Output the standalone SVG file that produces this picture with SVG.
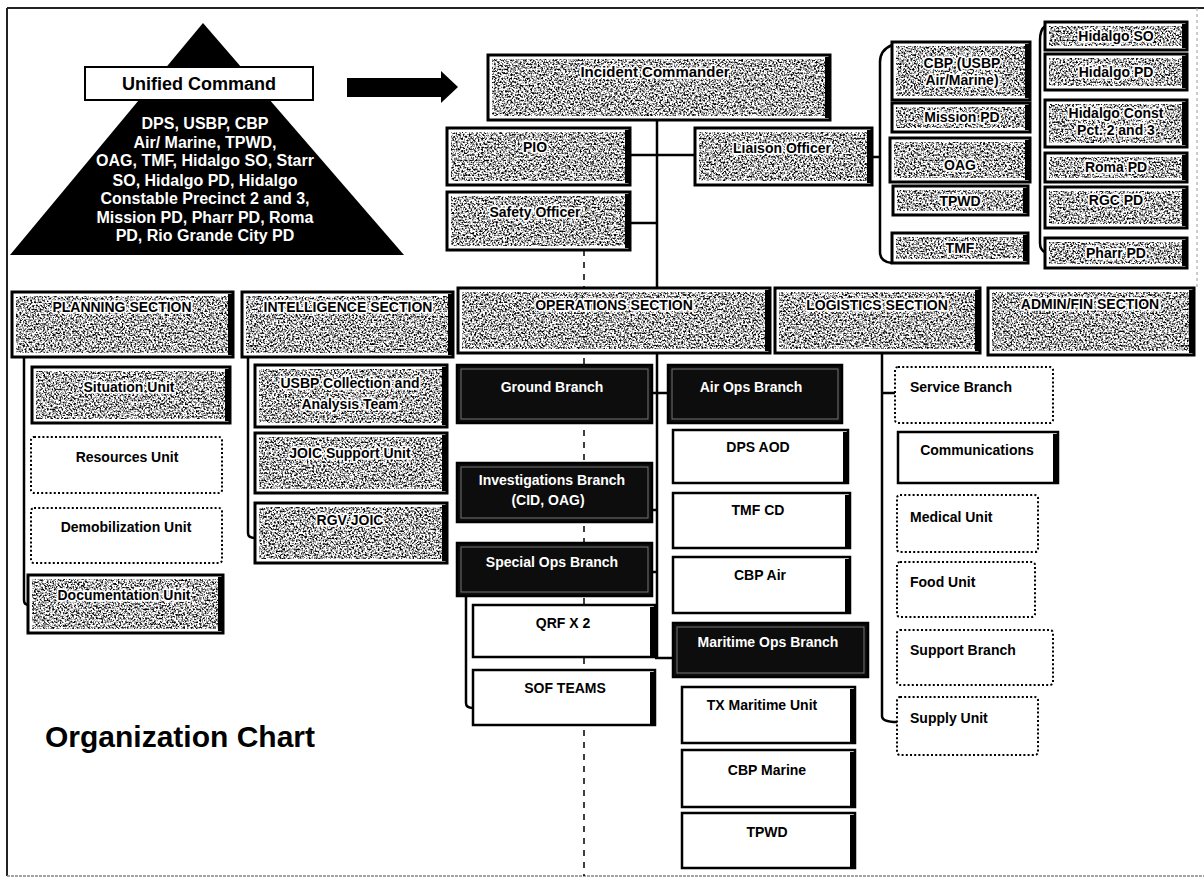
<svg xmlns="http://www.w3.org/2000/svg" width="1204" height="880" viewBox="0 0 1204 880">
<style>
.o{fill:#fff;stroke:#000;stroke-width:3}
.tx{fill:#fff;filter:url(#tex)}
.rb{fill:#000}
.w{fill:#fff;stroke:#000;stroke-width:2.5}
.d{fill:#0d0d0d;stroke:#000;stroke-width:2.5}
.di{fill:none;stroke:#777;stroke-width:1}
.dt{fill:#fff;stroke:#000;stroke-width:2;stroke-dasharray:2 2.2}
.t{font-family:"Liberation Sans",Arial,sans-serif;font-weight:bold;font-size:14px;text-anchor:middle;fill:#000}
.h{stroke:#fff;stroke-width:3.5;stroke-linejoin:round;paint-order:stroke}
.s{text-anchor:start}
.wt{fill:#fff}
.tri{font-family:"Liberation Sans",Arial,sans-serif;font-weight:bold;font-size:16px;text-anchor:middle;fill:#fff}
.ln{fill:none;stroke:#000;stroke-width:2.5}
.dl{fill:none;stroke:#000;stroke-width:1.5;stroke-dasharray:6 6}
</style>
<defs>
<filter id="tex" x="0" y="0" width="1" height="1" color-interpolation-filters="sRGB">
<feTurbulence type="fractalNoise" baseFrequency="0.55" numOctaves="2" seed="7"/>
<feColorMatrix type="matrix" values="0 0 0 0 0  0 0 0 0 0  0 0 0 0 0  -3.4 0 0 0 2.0"/>
<feComposite in2="SourceGraphic" operator="in" result="sp"/>
<feMerge><feMergeNode in="SourceGraphic"/><feMergeNode in="sp"/></feMerge>
</filter>
</defs>
<rect width="1204" height="880" fill="#fff"/>
<g id="frame">
<line x1="7" y1="8" x2="1204" y2="8" stroke="#222" stroke-width="2"/>
<line x1="7" y1="8" x2="7" y2="876" stroke="#222" stroke-width="2"/>
<line x1="7" y1="876" x2="1204" y2="876" stroke="#888" stroke-width="1.5" stroke-dasharray="3 1"/>
<line x1="1197" y1="8" x2="1197" y2="290" stroke="#999" stroke-width="1" stroke-dasharray="3 3"/>
</g>
<g id="connectors">
<line class="dl" x1="584" y1="250" x2="584" y2="876"/>
<path class="ln" d="M657,120 V288"/>
<path class="ln" d="M630,155 H695"/>
<path class="ln" d="M630,223 H657"/>
<path class="ln" d="M872,157 H880"/>
<path class="ln" d="M892,45 Q880,50 880,62 V252 Q880,262 892,263"/>
<path class="ln" d="M1045,26 Q1040,30 1040,40 V243 Q1040,250 1045,252"/>
<path class="ln" d="M24,357 V600 Q24,605 29,605"/>
<path class="ln" d="M248,357 V533 Q248,538 255,538"/>
<path class="ln" d="M657,353 V658"/>
<path class="ln" d="M652,393 H668"/>
<path class="ln" d="M652,510 H657"/>
<path class="ln" d="M652,572 H657"/>
<path class="ln" d="M655,658 H673"/>
<path class="ln" d="M466,596 V703 Q466,708 473,708"/>
<path class="ln" d="M882,353 V716 Q882,722 897,722"/>
<path class="ln" d="M882,393 H895"/>
</g>
<g id="unified-command">
<polygon points="203,23 10,255 404,255" fill="#000"/>
<text class="tri" x="205" y="129">DPS, USBP, CBP</text>
<text class="tri" x="205" y="148">Air/ Marine, TPWD,</text>
<text class="tri" x="205" y="166">OAG, TMF, Hidalgo  SO, Starr</text>
<text class="tri" x="205" y="186">SO, Hidalgo PD, Hidalgo</text>
<text class="tri" x="205" y="204">Constable Precinct 2 and 3,</text>
<text class="tri" x="205" y="223">Mission PD, Pharr PD, Roma</text>
<text class="tri" x="205" y="241">PD, Rio Grande City PD</text>
<rect x="85" y="67" width="228" height="33" fill="#fff" stroke="#000" stroke-width="2"/>
<text class="t" x="199" y="90" style="font-size:18px">Unified Command</text>
</g>
<g id="arrow">
<polygon points="347,78 441,78 441,71 458,87 441,103 441,97 347,97" fill="#000"/>
</g>
<g id="incident-commander"><rect class="o" x="488" y="55" width="342" height="65"/><rect class="tx" x="492" y="59" width="334" height="57"/><rect class="rb" x="825" y="57" width="5" height="61"/><text class="t h" x="655" y="77" style="font-size:15px">Incident Commander</text></g>
<g id="pio"><rect class="o" x="447" y="128" width="183" height="57"/><rect class="tx" x="451" y="132" width="175" height="49"/><rect class="rb" x="625" y="130" width="5" height="53"/><text class="t h" x="535" y="152">PIO</text></g>
<g id="safety-officer"><rect class="o" x="447" y="192" width="183" height="58"/><rect class="tx" x="451" y="196" width="175" height="50"/><rect class="rb" x="625" y="194" width="5" height="54"/><text class="t h" x="535" y="217">Safety Officer</text></g>
<g id="liaison-officer"><rect class="o" x="695" y="128" width="177" height="57"/><rect class="tx" x="699" y="132" width="169" height="49"/><rect class="rb" x="867" y="130" width="5" height="53"/><text class="t h" x="782" y="153">Liaison Officer</text></g>
<g id="cbp"><rect class="o" x="892" y="42" width="138" height="58"/><rect class="tx" x="896" y="46" width="130" height="50"/><rect class="rb" x="1025" y="44" width="5" height="54"/><text class="t h" x="962" y="68">CBP (USBP</text><text class="t h" x="962" y="85">Air/Marine)</text></g>
<g id="mission-pd"><rect class="o" x="892" y="103" width="138" height="29"/><rect class="tx" x="896" y="107" width="130" height="21"/><rect class="rb" x="1025" y="105" width="5" height="25"/><text class="t h" x="962" y="122">Mission PD</text></g>
<g id="oag"><rect class="o" x="890" y="138" width="140" height="44"/><rect class="tx" x="894" y="142" width="132" height="36"/><rect class="rb" x="1025" y="140" width="5" height="40"/><text class="t h" x="960" y="170">OAG</text></g>
<g id="tpwd-liaison"><rect class="o" x="893" y="186" width="135" height="29"/><rect class="tx" x="897" y="190" width="127" height="21"/><rect class="rb" x="1023" y="188" width="5" height="25"/><text class="t h" x="960" y="206">TPWD</text></g>
<g id="tmf"><rect class="o" x="892" y="233" width="136" height="30"/><rect class="tx" x="896" y="237" width="128" height="22"/><rect class="rb" x="1023" y="235" width="5" height="26"/><text class="t h" x="960" y="253">TMF</text></g>
<g id="hidalgo-so"><rect class="o" x="1045" y="22" width="142" height="28"/><rect class="tx" x="1049" y="26" width="134" height="20"/><rect class="rb" x="1182" y="24" width="5" height="24"/><text class="t h" x="1116" y="41">Hidalgo SO</text></g>
<g id="hidalgo-pd"><rect class="o" x="1045" y="54" width="142" height="36"/><rect class="tx" x="1049" y="58" width="134" height="28"/><rect class="rb" x="1182" y="56" width="5" height="32"/><text class="t h" x="1116" y="77">Hidalgo PD</text></g>
<g id="hidalgo-const"><rect class="o" x="1045" y="100" width="142" height="47"/><rect class="tx" x="1049" y="104" width="134" height="39"/><rect class="rb" x="1182" y="102" width="5" height="43"/><text class="t h" x="1116" y="118">Hidalgo Const</text><text class="t h" x="1116" y="135">Pct. 2 and 3</text></g>
<g id="roma-pd"><rect class="o" x="1045" y="153" width="142" height="29"/><rect class="tx" x="1049" y="157" width="134" height="21"/><rect class="rb" x="1182" y="155" width="5" height="25"/><text class="t h" x="1116" y="172">Roma PD</text></g>
<g id="rgc-pd"><rect class="o" x="1045" y="187" width="142" height="41"/><rect class="tx" x="1049" y="191" width="134" height="33"/><rect class="rb" x="1182" y="189" width="5" height="37"/><text class="t h" x="1116" y="205">RGC PD</text></g>
<g id="pharr-pd"><rect class="o" x="1045" y="238" width="142" height="30"/><rect class="tx" x="1049" y="242" width="134" height="22"/><rect class="rb" x="1182" y="240" width="5" height="26"/><text class="t h" x="1116" y="258">Pharr PD</text></g>
<g id="planning-section"><rect class="o" x="12" y="292" width="221" height="65"/><rect class="tx" x="16" y="296" width="213" height="57"/><rect class="rb" x="228" y="294" width="5" height="61"/><text class="t h" x="122" y="312">PLANNING SECTION</text></g>
<g id="intelligence-section"><rect class="o" x="242" y="292" width="211" height="65"/><rect class="tx" x="246" y="296" width="203" height="57"/><rect class="rb" x="448" y="294" width="5" height="61"/><text class="t h" x="348" y="312">INTELLIGENCE SECTION</text></g>
<g id="operations-section"><rect class="o" x="458" y="288" width="312" height="65"/><rect class="tx" x="462" y="292" width="304" height="57"/><rect class="rb" x="765" y="290" width="5" height="61"/><text class="t h" x="614" y="310">OPERATIONS SECTION</text></g>
<g id="logistics-section"><rect class="o" x="775" y="288" width="205" height="65"/><rect class="tx" x="779" y="292" width="197" height="57"/><rect class="rb" x="975" y="290" width="5" height="61"/><text class="t h" x="877" y="310">LOGISTICS SECTION</text></g>
<g id="admin-fin-section"><rect class="o" x="988" y="288" width="206" height="67"/><rect class="tx" x="992" y="292" width="198" height="59"/><rect class="rb" x="1189" y="290" width="5" height="63"/><text class="t h" x="1090" y="309">ADMIN/FIN SECTION</text></g>
<g id="situation-unit"><rect class="o" x="32" y="367" width="198" height="56"/><rect class="tx" x="36" y="371" width="190" height="48"/><rect class="rb" x="225" y="369" width="5" height="52"/><text class="t h" x="129" y="392">Situation Unit</text></g>
<g id="resources-unit"><rect class="dt" x="31" y="437" width="191" height="56" rx="3"/><text class="t" x="127" y="462">Resources Unit</text></g>
<g id="demobilization-unit"><rect class="dt" x="31" y="508" width="191" height="55" rx="3"/><text class="t" x="126" y="532">Demobilization Unit</text></g>
<g id="documentation-unit"><rect class="o" x="28" y="575" width="195" height="58"/><rect class="tx" x="32" y="579" width="187" height="50"/><rect class="rb" x="218" y="577" width="5" height="54"/><text class="t h" x="124" y="600">Documentation Unit</text></g>
<g id="usbp-collection"><rect class="o" x="255" y="365" width="192" height="62"/><rect class="tx" x="259" y="369" width="184" height="54"/><rect class="rb" x="442" y="367" width="5" height="58"/><text class="t h" x="350" y="388">USBP Collection and</text><text class="t h" x="350" y="409">Analysis Team</text></g>
<g id="joic-support-unit"><rect class="o" x="255" y="433" width="192" height="60"/><rect class="tx" x="259" y="437" width="184" height="52"/><rect class="rb" x="442" y="435" width="5" height="56"/><text class="t h" x="350" y="458">JOIC Support Unit</text></g>
<g id="rgv-joic"><rect class="o" x="255" y="503" width="192" height="60"/><rect class="tx" x="259" y="507" width="184" height="52"/><rect class="rb" x="442" y="505" width="5" height="56"/><text class="t h" x="350" y="525">RGV JOIC</text></g>
<g id="ground-branch"><rect class="d" x="457" y="365" width="195" height="58"/><rect class="di" x="461" y="369" width="187" height="50"/><text class="t wt" x="552" y="392">Ground Branch</text></g>
<g id="air-ops-branch"><rect class="d" x="668" y="365" width="174" height="58"/><rect class="di" x="672" y="369" width="166" height="50"/><text class="t wt" x="751" y="392">Air Ops Branch</text></g>
<g id="investigations-branch"><rect class="d" x="457" y="463" width="195" height="59"/><rect class="di" x="461" y="467" width="187" height="51"/><text class="t wt" x="552" y="485">Investigations Branch</text><text class="t wt" x="548" y="505">(CID, OAG)</text></g>
<g id="special-ops-branch"><rect class="d" x="457" y="543" width="195" height="53"/><rect class="di" x="461" y="547" width="187" height="45"/><text class="t wt" x="552" y="567">Special Ops Branch</text></g>
<g id="maritime-ops-branch"><rect class="d" x="673" y="623" width="195" height="54"/><rect class="di" x="677" y="627" width="187" height="46"/><text class="t wt" x="768" y="647">Maritime Ops Branch</text></g>
<g id="dps-aod"><rect class="w" x="673" y="430" width="175" height="53"/><rect class="rb" x="843" y="432" width="5" height="51"/><text class="t" x="758" y="452">DPS AOD</text></g>
<g id="tmf-cd"><rect class="w" x="673" y="493" width="177" height="55"/><rect class="rb" x="845" y="495" width="5" height="53"/><text class="t" x="758" y="515">TMF CD</text></g>
<g id="cbp-air"><rect class="w" x="673" y="557" width="177" height="56"/><rect class="rb" x="845" y="559" width="5" height="54"/><text class="t" x="760" y="580">CBP Air</text></g>
<g id="qrf"><rect class="w" x="473" y="605" width="182" height="52"/><rect class="rb" x="650" y="607" width="5" height="50"/><text class="t" x="563" y="628">QRF X 2</text></g>
<g id="sof-teams"><rect class="w" x="473" y="670" width="182" height="55"/><rect class="rb" x="650" y="672" width="5" height="53"/><text class="t" x="565" y="693">SOF TEAMS</text></g>
<g id="tx-maritime-unit"><rect class="w" x="682" y="687" width="173" height="56"/><rect class="rb" x="850" y="689" width="5" height="54"/><text class="t" x="762" y="710">TX Maritime Unit</text></g>
<g id="cbp-marine"><rect class="w" x="682" y="750" width="173" height="57"/><rect class="rb" x="850" y="752" width="5" height="55"/><text class="t" x="767" y="775">CBP Marine</text></g>
<g id="tpwd-maritime"><rect class="w" x="682" y="813" width="173" height="55"/><rect class="rb" x="850" y="815" width="5" height="53"/><text class="t" x="767" y="837">TPWD</text></g>
<g id="communications"><rect class="w" x="898" y="432" width="160" height="51"/><rect class="rb" x="1053" y="434" width="5" height="49"/><text class="t" x="977" y="455">Communications</text></g>
<g id="service-branch"><rect class="dt" x="895" y="367" width="158" height="56" rx="3"/><text class="t s" x="910" y="392">Service Branch</text></g>
<g id="medical-unit"><rect class="dt" x="897" y="495" width="141" height="57" rx="3"/><text class="t s" x="910" y="522">Medical Unit</text></g>
<g id="food-unit"><rect class="dt" x="897" y="562" width="138" height="55" rx="3"/><text class="t s" x="910" y="587">Food Unit</text></g>
<g id="support-branch"><rect class="dt" x="897" y="630" width="156" height="55" rx="3"/><text class="t s" x="910" y="655">Support Branch</text></g>
<g id="supply-unit"><rect class="dt" x="897" y="697" width="141" height="58" rx="3"/><text class="t s" x="910" y="723">Supply Unit</text></g>
<g id="title"><text x="45" y="747" style="font-family:'Liberation Sans',Arial,sans-serif;font-weight:bold;font-size:30px;fill:#000">Organization Chart</text></g>
</svg>
